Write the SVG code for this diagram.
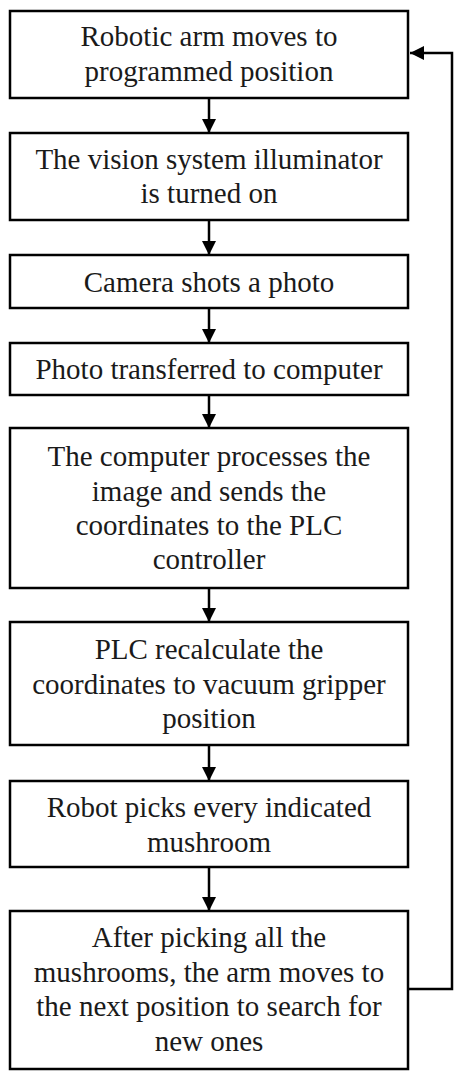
<svg xmlns="http://www.w3.org/2000/svg" width="463" height="1080" viewBox="0 0 463 1080">
<style>
rect.n{fill:#fff;stroke:#000;stroke-width:2.5}
text{font-family:"Liberation Serif","Times New Roman",serif;font-size:29px;fill:#1a1a1a;text-anchor:middle}
.c{fill:none;stroke:#000;stroke-width:2.5}
</style>
<defs>
<marker id="ah" markerWidth="14" markerHeight="14" viewBox="0 0 14 14" refX="14" refY="7" orient="auto" markerUnits="userSpaceOnUse">
<path d="M0,0 L14,7 L0,14 Z" fill="#000"/>
</marker>
</defs>
<rect width="463" height="1080" fill="#fff"/>
<g id="connectors">
<line class="c" x1="209" y1="98" x2="209" y2="133" marker-end="url(#ah)"/>
<line class="c" x1="209" y1="220" x2="209" y2="255" marker-end="url(#ah)"/>
<line class="c" x1="209" y1="308" x2="209" y2="343" marker-end="url(#ah)"/>
<line class="c" x1="209" y1="395" x2="209" y2="428" marker-end="url(#ah)"/>
<line class="c" x1="209" y1="588" x2="209" y2="622" marker-end="url(#ah)"/>
<line class="c" x1="209" y1="745" x2="209" y2="781" marker-end="url(#ah)"/>
<line class="c" x1="209" y1="867" x2="209" y2="911" marker-end="url(#ah)"/>
<polyline class="c" points="409,989 452,989 452,53 410,53" marker-end="url(#ah)"/>
</g>
<g id="n1"><rect class="n" x="10" y="11" width="398" height="87"/>
<text x="209" y="46">Robotic arm moves to</text><text x="209" y="81">programmed position</text></g>
<g id="n2"><rect class="n" x="10" y="133" width="398" height="87"/>
<text x="209" y="169">The vision system illuminator</text><text x="209" y="203">is turned on</text></g>
<g id="n3"><rect class="n" x="10" y="255" width="398" height="53"/>
<text x="209" y="292">Camera shots a photo</text></g>
<g id="n4"><rect class="n" x="10" y="343" width="398" height="52"/>
<text x="209" y="379">Photo transferred to computer</text></g>
<g id="n5"><rect class="n" x="10" y="428" width="398" height="160"/>
<text x="209" y="466">The computer processes the</text><text x="209" y="501">image and sends the</text><text x="209" y="535">coordinates to the PLC</text><text x="209" y="569">controller</text></g>
<g id="n6"><rect class="n" x="10" y="622" width="398" height="123"/>
<text x="209" y="659">PLC recalculate the</text><text x="209" y="694">coordinates to vacuum gripper</text><text x="209" y="728">position</text></g>
<g id="n7"><rect class="n" x="10" y="781" width="398" height="86"/>
<text x="209" y="817">Robot picks every indicated</text><text x="209" y="852">mushroom</text></g>
<g id="n8"><rect class="n" x="10" y="911" width="398" height="158"/>
<text x="209" y="947">After picking all the</text><text x="209" y="982">mushrooms, the arm moves to</text><text x="209" y="1016">the next position to search for</text><text x="209" y="1051">new ones</text></g>
</svg>
